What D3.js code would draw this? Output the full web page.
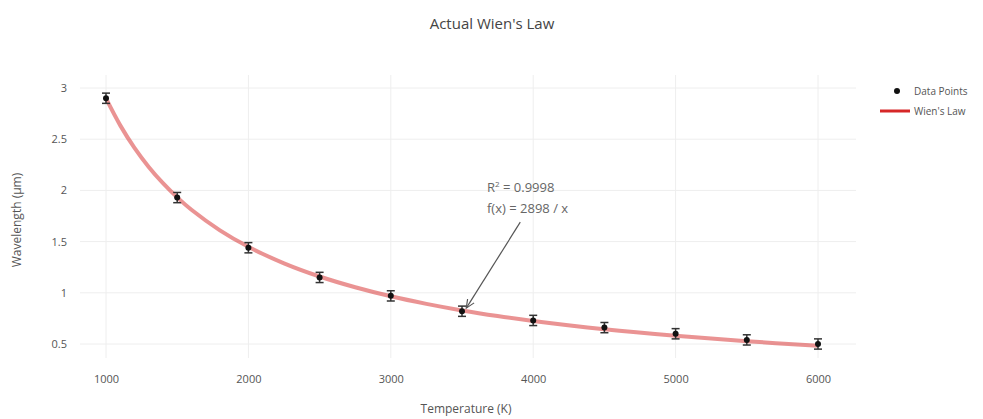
<!DOCTYPE html>
<html>
<head>
<meta charset="utf-8">
<script src="https://cdn.jsdelivr.net/npm/d3@7"></script>
<style>
  body { margin: 0; background: #fff; }
  text { font-family: "Open Sans", sans-serif; }
</style>
</head>
<body>
<svg width="983" height="419"></svg>
<script>

const temps = [1000, 1500, 2000, 2500, 3000, 3500, 4000, 4500, 5000, 5500, 6000];
const wavelengths = [2.90, 1.93, 1.44, 1.15, 0.97, 0.82, 0.73, 0.66, 0.60, 0.54, 0.50];
const errors = [0.05, 0.05, 0.05, 0.05, 0.05, 0.05, 0.05, 0.05, 0.05, 0.05, 0.05];

// fitted curve
const curveX = [1000, 1100, 1200, 1300, 1400, 1500, 1600, 1800, 2000, 2250, 2500, 2750, 3000, 3250, 3500, 3750, 4000, 4500, 5000, 5500, 6000];
const curveY = [2.898, 2.635, 2.415, 2.229, 2.070, 1.932, 1.811, 1.610, 1.449, 1.288, 1.159, 1.054, 0.966, 0.892, 0.828, 0.773, 0.725, 0.644, 0.580, 0.527, 0.483];

const xTicks = [1000, 2000, 3000, 4000, 5000, 6000];
const yTicks = [0.5, 1, 1.5, 2, 2.5, 3];

const svg = d3.select('svg'),
    plot = { left: 80, right: 856, top: 75, bottom: 358 };

const x = d3.scaleLinear().domain([1000, 6000]).range([106, 818]);
const y = d3.scaleLinear().domain([0.5, 3]).range([344, 88]);

// grid
const grid = svg.append('g');
grid.selectAll('.gx')
    .data(xTicks)
    .enter().append('line')
    .attr('x1', x).attr('x2', x)
    .attr('y1', plot.top).attr('y2', plot.bottom)
    .attr('stroke', '#eee');
grid.selectAll('.gy')
    .data(yTicks)
    .enter().append('line')
    .attr('y1', y).attr('y2', y)
    .attr('x1', plot.left).attr('x2', plot.right)
    .attr('stroke', '#eee');

// axes (labels only)
const xAxis = svg.append('g')
    .attr('transform', 'translate(0,' + (plot.bottom + 14) + ')')
    .call(d3.axisBottom(x).tickValues(xTicks).tickSize(0).tickFormat(d3.format('d')));
xAxis.select('.domain').remove();
xAxis.selectAll('text').attr('fill', '#555').style('font-size', '11px').style('font-family', '"Open Sans", sans-serif');

const yAxis = svg.append('g')
    .attr('transform', 'translate(' + (plot.left - 10) + ',0)')
    .call(d3.axisLeft(y).tickValues(yTicks).tickSize(0).tickFormat(d => d));
yAxis.select('.domain').remove();
yAxis.selectAll('text').attr('fill', '#555').style('font-size', '11px').style('font-family', '"Open Sans", sans-serif');

// fit line
const line = d3.line()
    .x((d, i) => x(curveX[i]))
    .y(d => y(d))
    .curve(d3.curveCatmullRom);

svg.append('path')
    .datum(curveY)
    .attr('d', line)
    .attr('fill', 'none')
    .attr('stroke', '#d62728')
    .attr('stroke-opacity', 0.5)
    .attr('stroke-width', 4);

// error bars + points
const pts = svg.append('g')
    .selectAll('g')
    .data(temps)
    .enter().append('g');

pts.append('line')
    .attr('x1', d => x(d)).attr('x2', d => x(d))
    .attr('y1', (d, i) => y(wavelengths[i] - errors[i]))
    .attr('y2', (d, i) => y(wavelengths[i] + errors[i]))
    .attr('stroke', '#333').attr('stroke-width', 1.5);

[-1, 1].forEach(s => {
    pts.append('line')
        .attr('x1', d => x(d) - 4).attr('x2', d => x(d) + 4)
        .attr('y1', (d, i) => y(wavelengths[i] + s * errors[i]))
        .attr('y2', (d, i) => y(wavelengths[i] + s * errors[i]))
        .attr('stroke', '#333').attr('stroke-width', 1.5);
});

pts.append('circle')
    .attr('cx', d => x(d))
    .attr('cy', (d, i) => y(wavelengths[i]))
    .attr('r', 3)
    .attr('fill', '#111');

// annotation
const ax = x(3530), ay = y(0.85);
svg.append('defs').append('marker')
    .attr('id', 'arrow')
    .attr('viewBox', '0 0 10 10')
    .attr('refX', 9).attr('refY', 5)
    .attr('markerWidth', 8).attr('markerHeight', 8)
    .attr('orient', 'auto')
    .append('path')
    .attr('d', 'M0,1 L9,5 L0,9')
    .attr('fill', 'none')
    .attr('stroke', '#555')
    .attr('stroke-width', 1.2);

svg.append('line')
    .attr('x1', ax + 54).attr('y1', ay - 86)
    .attr('x2', ax).attr('y2', ay)
    .attr('stroke', '#555')
    .attr('stroke-width', 1.2)
    .attr('marker-end', 'url(#arrow)');

const note = svg.append('text')
    .attr('x', 487)
    .attr('fill', '#666')
    .style('font-size', '13px');
note.append('tspan').attr('x', 487).attr('y', 192).text('R');
note.append('tspan').attr('dy', -5).style('font-size', '8px').text('2');
note.append('tspan').attr('dy', 5).text(' = 0.9998');
note.append('tspan').attr('x', 487).attr('y', 213).text('f(x) = 2898 / x');

// titles
svg.append('text')
    .attr('x', 492).attr('y', 29)
    .attr('text-anchor', 'middle')
    .attr('fill', '#444')
    .style('font-size', '15px')
    .text("Actual Wien's Law");

svg.append('text')
    .attr('x', 466).attr('y', 413)
    .attr('text-anchor', 'middle')
    .attr('fill', '#555')
    .style('font-size', '12px')
    .text('Temperature (K)');

svg.append('text')
    .attr('transform', 'translate(21,220)rotate(-90)')
    .attr('text-anchor', 'middle')
    .attr('fill', '#555')
    .style('font-size', '12px')
    .text('Wavelength (μm)');

// legend
const legend = svg.append('g').attr('transform', 'translate(880,0)');
legend.append('circle').attr('cx', 17).attr('cy', 91).attr('r', 3).attr('fill', '#111');
legend.append('line').attr('x1', 0).attr('x2', 30).attr('y1', 111).attr('y2', 111)
    .attr('stroke', '#d62728').attr('stroke-width', 3);
legend.selectAll('.lt')
    .data(['Data Points', "Wien's Law"])
    .enter().append('text')
    .attr('x', 34)
    .attr('y', (d, i) => 91 + i * 20)
    .attr('dy', '0.35em')
    .attr('fill', '#555')
    .style('font-size', '10px')
    .text(d => d);

</script>
</body>
</html>
